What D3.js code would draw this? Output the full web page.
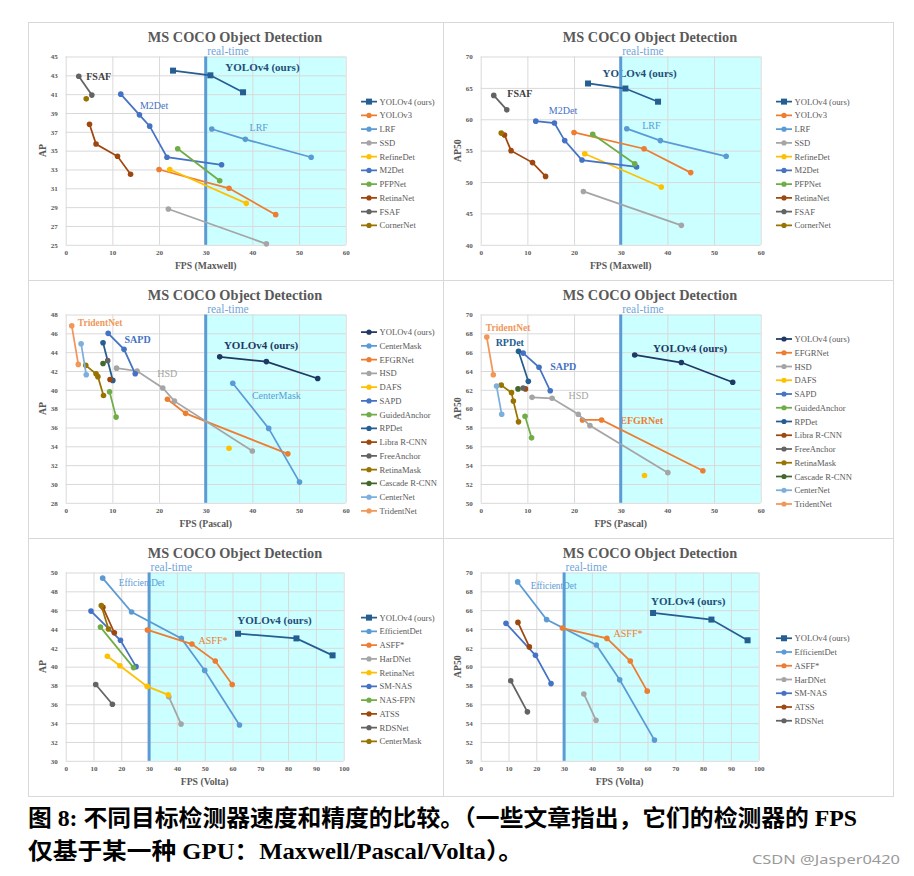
<!DOCTYPE html>
<html><head><meta charset="utf-8">
<script src="https://cdn.jsdelivr.net/npm/d3@7"></script>
<style>body{margin:0;background:#fff} svg{display:block}</style>
</head><body>
<svg id="c" width="914" height="876"></svg>
<script>
// ---------------- DATA ----------------
const maxwellNames = ["YOLOv4 (ours)","YOLOv3","LRF","SSD","RefineDet","M2Det","PFPNet","RetinaNet","FSAF","CornerNet"];
const maxwellFps = [[23,31,38],[20,35,45],[31.3,38.5,52.6],[22,43],[22.3,38.7],[11.8,15.8,18,21.7,33.4],[24,33],[5.1,6.5,11.1,13.9],[2.8,5.6],[4.4]];
const maxwellAP = [[43.5,43.0,41.2],[33.0,31.0,28.2],[37.3,36.2,34.3],[28.8,25.1],[33.0,29.4],[41.0,38.8,37.6,34.3,33.5],[35.2,31.8],[37.8,35.7,34.4,32.5],[42.9,40.9],[40.5]];
const maxwellAP50 = [[65.7,64.9,62.8],[57.9,55.3,51.5],[58.5,56.6,54.1],[48.5,43.1],[54.5,49.2],[59.7,59.4,56.6,53.5,52.4],[57.6,52.9],[57.5,55.0,53.1,50.9],[63.8,61.5],[57.8]];

const pascalNamesAP = ["YOLOv4 (ours)","CenterMask","EFGRNet","HSD","DAFS","SAPD","GuidedAnchor","RPDet","Libra R-CNN","FreeAnchor","RetinaMask","Cascade R-CNN","CenterNet","TridentNet"];
const pascalFpsAP = [[33,43,54],[35.8,43.5,50.1],[21.8,25.7,47.6],[10.9,15.3,20.8,23.3,40],[35],[9.1,12.5,14.9],[9.4,10.8],[8.0,10.1],[9.5],[9.0],[4.3,6.5,6.9,8.1],[8.0],[3.3,4.4],[1.3,2.7]];
const pascalAP = [[43.5,43.0,41.2],[40.7,35.9,30.2],[39.0,37.5,33.2],[42.3,42.0,40.2,38.8,33.5],[33.8],[46.0,44.3,41.7],[39.8,37.1],[45.0,41.0],[41.1],[43.1],[42.6,41.7,41.4,39.4],[42.8],[44.9,41.6],[46.8,42.7]];

const pascalNamesAP50 = ["YOLOv4 (ours)","EFGRNet","HSD","DAFS","SAPD","GuidedAnchor","RPDet","Libra R-CNN","FreeAnchor","RetinaMask","Cascade R-CNN","CenterNet","TridentNet"];
const pascalFpsAP50 = [[33,43,54],[21.8,25.9,47.6],[11,15.3,20.9,23.4,40.1],[35.1],[9.1,12.5,14.9],[9.5,10.9],[8.1,10.2],[9.6],[9.1],[4.4,6.6,7.0,8.1],[8.0],[3.4,4.5],[1.3,2.7]];
const pascalAP50 = [[65.7,64.9,62.8],[58.8,58.8,53.4],[61.2,61.1,59.4,58.2,53.2],[52.9],[65.9,64.4,61.9],[59.2,56.9],[66.1,62.9],[62.1],[62.2],[62.5,61.7,60.8,58.6],[62.1],[62.4,59.4],[67.6,63.6]];

const voltaNamesAP = ["YOLOv4 (ours)","EfficientDet","ASFF*","HarDNet","RetinaNet","SM-NAS","NAS-FPN","ATSS","RDSNet","CenterMask"];
const voltaFpsAP = [[62,83,96],[13.3,23.7,41.6,50,62.5],[29.4,45.4,53.8,59.9],[37.1,41.5],[15.0,19.5,29.3,36.9],[9.1,19.7,25.3],[12.5,24.4],[13.4,17.5],[10.8,16.8],[12.8,15.4]];
const voltaAP = [[43.5,43.0,41.2],[49.4,45.8,43.0,39.6,33.8],[43.9,42.4,40.6,38.1],[36.8,33.9],[41.1,40.1,37.9,37.0],[45.9,42.8,40.0],[44.2,39.9],[46.3,43.6],[38.1,36.0],[46.5,44.0]];

const voltaNamesAP50 = ["YOLOv4 (ours)","EfficientDet","ASFF*","HarDNet","SM-NAS","ATSS","RDSNet"];
const voltaFpsAP50 = [[62,83,96],[13.3,23.7,41.6,50,62.5],[29.4,45.4,53.8,59.9],[37.1,41.5],[9.1,19.7,25.3],[13.4,17.5],[10.8,16.8]];
const voltaAP50 = [[65.7,65.0,62.8],[69.0,65.0,62.3,58.6,52.2],[64.1,63.0,60.6,57.4],[57.1,54.3],[64.6,61.2,58.2],[64.7,62.1],[58.5,55.2]];

const titleText = "MS COCO Object Detection";
const realTimeText = "real-time";
const realTimeFps = 30;
const captionLines = ["图 8: 不同目标检测器速度和精度的比较。（一些文章指出，它们的检测器的 FPS","仅基于某一种 GPU：Maxwell/Pascal/Volta）。"];
const watermark = "CSDN @Jasper0420";

// ---------------- STYLE ----------------
const C = {yolo:"#255E91", yoloP:"#203864", lb:"#5B9BD5", or:"#ED7D31", gr:"#A5A5A5", ye:"#FFC000", bl:"#4472C4", gn:"#70AD47", db:"#255E91", br:"#9E480E", dg:"#636363", ol:"#997300", dgn:"#43682B", lb2:"#7CAFDD", or2:"#F1975A"};
const colorsMaxwell = [C.yolo,C.or,C.lb,C.gr,C.ye,C.bl,C.gn,C.br,C.dg,C.ol];
const colorsPascalAP = [C.yoloP,C.lb,C.or,C.gr,C.ye,C.bl,C.gn,C.db,C.br,C.dg,C.ol,C.dgn,C.lb2,C.or2];
const colorsPascalAP50 = [C.yoloP,C.or,C.gr,C.ye,C.bl,C.gn,C.db,C.br,C.dg,C.ol,C.dgn,C.lb2,C.or2];
const colorsVoltaAP = [C.yolo,C.lb,C.or,C.gr,C.ye,C.bl,C.gn,C.br,C.dg,C.ol];
const colorsVoltaAP50 = [C.yolo,C.lb,C.or,C.gr,C.bl,C.br,C.dg];

const yoloLbl = "#1F4E79";
const notes = [
  [["FSAF",4.4,42.5,"#404040",true,10],["M2Det",15.9,39.4,C.bl,false,10],["LRF",39.4,37.1,C.lb,false,10],["YOLOv4 (ours)",34.2,43.5,yoloLbl,true,11]],
  [["FSAF",5.7,63.6,"#404040",true,10],["M2Det",14.6,60.85,C.bl,false,10],["LRF",34.6,58.5,C.lb,false,10],["YOLOv4 (ours)",26.1,66.7,yoloLbl,true,11]],
  [["TridentNet",2.6,46.8,C.or2,true,9.5],["SAPD",12.6,45.0,C.bl,true,10],["HSD",19.6,41.4,C.gr,false,10],["YOLOv4 (ours)",33.9,44.3,"#1F3864",true,11],["CenterMask",39.9,39.0,C.lb,false,10]],
  [["TridentNet",1.1,68.2,C.or2,true,9.5],["RPDet",3.2,66.7,C.db,true,10],["SAPD",14.9,64.1,C.bl,true,10],["HSD",18.8,61.0,C.gr,false,10],["EFGRNet",29.9,58.4,C.or,true,10],["YOLOv4 (ours)",36.9,66.0,"#1F3864",true,11]],
  [["EfficientDet",19.1,48.6,C.lb,false,9.3],["ASFF*",47.8,42.4,C.or,false,10],["YOLOv4 (ours)",61.75,44.55,yoloLbl,true,11]],
  [["EfficientDet",18.0,68.3,C.lb,false,9.3],["ASFF*",47.8,63.1,C.or,false,10],["YOLOv4 (ours)",61.3,66.5,yoloLbl,true,11]]
];

const panels = [
  {col:0,row:0,names:maxwellNames,fps:maxwellFps,vals:maxwellAP,colors:colorsMaxwell,yd:[25,45],ys:2,xd:[0,60],xs:10,yl:"AP",xl:"FPS (Maxwell)",sq:true},
  {col:1,row:0,names:maxwellNames,fps:maxwellFps,vals:maxwellAP50,colors:colorsMaxwell,yd:[40,70],ys:5,xd:[0,60],xs:10,yl:"AP50",xl:"FPS (Maxwell)",sq:true},
  {col:0,row:1,names:pascalNamesAP,fps:pascalFpsAP,vals:pascalAP,colors:colorsPascalAP,yd:[28,48],ys:2,xd:[0,60],xs:10,yl:"AP",xl:"FPS (Pascal)",sq:false},
  {col:1,row:1,names:pascalNamesAP50,fps:pascalFpsAP50,vals:pascalAP50,colors:colorsPascalAP50,yd:[50,70],ys:2,xd:[0,60],xs:10,yl:"AP50",xl:"FPS (Pascal)",sq:false},
  {col:0,row:2,names:voltaNamesAP,fps:voltaFpsAP,vals:voltaAP,colors:colorsVoltaAP,yd:[30,50],ys:2,xd:[0,100],xs:10,yl:"AP",xl:"FPS (Volta)",sq:true},
  {col:1,row:2,names:voltaNamesAP50,fps:voltaFpsAP50,vals:voltaAP50,colors:colorsVoltaAP50,yd:[50,70],ys:2,xd:[0,100],xs:10,yl:"AP50",xl:"FPS (Volta)",sq:true}
];

const SERIF = "'Liberation Serif','Times New Roman',serif";
const svg = d3.select("#c");
svg.append("rect").attr("width",914).attr("height",876).attr("fill","#fff");

panels.forEach((p,pi)=>{
  const ox = 28 + p.col*415, oy = 22 + p.row*258;
  const g = svg.append("g");
  g.append("rect").attr("x",ox+0.5).attr("y",oy+0.5).attr("width",p.col===0?415:450).attr("height",258)
    .attr("fill","none").attr("stroke","#D9D9D9");
  const left = ox+37.7, right = ox + (p.xd[1]===100?315.7:317.7), top = oy+34.5, bottom = oy+222.8;
  const x = d3.scaleLinear().domain(p.xd).range([left,right]);
  const y = d3.scaleLinear().domain(p.yd).range([bottom,top]);

  g.append("rect").attr("x",x(realTimeFps)).attr("y",top).attr("width",right-x(realTimeFps)).attr("height",bottom-top).attr("fill","#CCFFFF");

  const xt = d3.range(p.xd[0],p.xd[1]+0.001,p.xs), yt = d3.range(p.yd[0],p.yd[1]+0.001,p.ys);
  const ax = g.append("g").attr("transform",`translate(0,${bottom})`)
    .call(d3.axisBottom(x).tickValues(xt).tickSize(-(bottom-top)).tickPadding(5.5).tickFormat(d3.format("d")));
  const ay = g.append("g").attr("transform",`translate(${left},0)`)
    .call(d3.axisLeft(y).tickValues(yt).tickSize(-(right-left)).tickPadding(8).tickFormat(d3.format("d")));
  [ax,ay].forEach(a=>{
    a.select(".domain").remove();
    a.selectAll(".tick line").attr("stroke","#D9D9D9").attr("stroke-width",1);
    a.selectAll(".tick text").attr("font-family",SERIF).attr("font-size",7).attr("font-weight","bold").attr("fill","#595959");
  });

  g.append("text").attr("x",ox+207).attr("y",oy+19.5).attr("text-anchor","middle")
    .attr("font-family",SERIF).attr("font-weight","bold").attr("font-size",14.3).attr("fill","#595959").text(titleText);
  g.append("text").attr("x",x(realTimeFps)+1.5).attr("y",top-1.5).attr("font-family",SERIF).attr("font-size",11.5)
    .attr("fill","#6FA6DC").text(realTimeText);
  g.append("text").attr("x",(left+right)/2).attr("y",bottom+24.5).attr("text-anchor","middle")
    .attr("font-family",SERIF).attr("font-weight","bold").attr("font-size",9.7).attr("fill","#595959").text(p.xl);
  g.append("text").attr("transform",`translate(${ox+17.5},${(top+bottom)/2}) rotate(-90)`).attr("text-anchor","middle")
    .attr("font-family",SERIF).attr("font-weight","bold").attr("font-size",9.7).attr("fill","#595959").text(p.yl);

  notes[pi].forEach(n=>{
    g.append("text").attr("x",x(n[1])).attr("y",y(n[2])).attr("font-family",SERIF)
      .attr("font-weight",n[4]?"bold":"normal").attr("font-size",n[5]).attr("fill",n[3]).text(n[0]);
  });

  g.append("line").attr("x1",x(realTimeFps)).attr("x2",x(realTimeFps)).attr("y1",top).attr("y2",bottom)
    .attr("stroke","#5B9BD5").attr("stroke-width",3);

  const line = d3.line().x(d=>x(d[0])).y(d=>y(d[1]));
  p.names.forEach((nm,i)=>{
    const pts = p.fps[i].map((f,j)=>[f,p.vals[i][j]]);
    const col = p.colors[i];
    if (pts.length>1) g.append("path").attr("d",line(pts)).attr("fill","none").attr("stroke",col).attr("stroke-width",1.75);
    const square = p.sq && i===0;
    pts.forEach(d=>{
      if (square) g.append("rect").attr("x",x(d[0])-3).attr("y",y(d[1])-3).attr("width",6).attr("height",6).attr("fill",col);
      else g.append("circle").attr("cx",x(d[0])).attr("cy",y(d[1])).attr("r",2.8).attr("fill",col);
    });
  });

  const n = p.names.length, sp = 13.75;
  const y0 = oy + 141.5 - (n-1)/2*sp;
  p.names.forEach((nm,i)=>{
    const ly = y0 + i*sp, col = p.colors[i], lx = ox+333;
    g.append("line").attr("x1",lx).attr("x2",lx+16).attr("y1",ly).attr("y2",ly).attr("stroke",col).attr("stroke-width",1.75);
    if (p.sq && i===0) g.append("rect").attr("x",lx+5).attr("y",ly-3).attr("width",6).attr("height",6).attr("fill",col);
    else g.append("circle").attr("cx",lx+8).attr("cy",ly).attr("r",2.6).attr("fill",col);
    g.append("text").attr("x",lx+18.5).attr("y",ly+3).attr("font-family",SERIF).attr("font-size",8.6).attr("fill","#595959").text(nm);
  });
});

const capW = [829, 495], capY = [826, 859];
captionLines.forEach((t,i)=>{
  svg.append("text").attr("x",28).attr("y",capY[i]).attr("font-family","'Liberation Serif','Noto Sans CJK SC',serif")
    .attr("font-weight","bold").attr("font-size",23).attr("fill","#000")
    .attr("textLength",capW[i]).attr("lengthAdjust","spacingAndGlyphs").text(t);
});
svg.append("text").attr("x",752).attr("y",864).attr("font-family","'Noto Sans','DejaVu Sans',sans-serif")
  .attr("font-size",13).attr("fill","#9a9a9a").attr("textLength",148).attr("lengthAdjust","spacingAndGlyphs").text(watermark);
</script>
</body></html>
